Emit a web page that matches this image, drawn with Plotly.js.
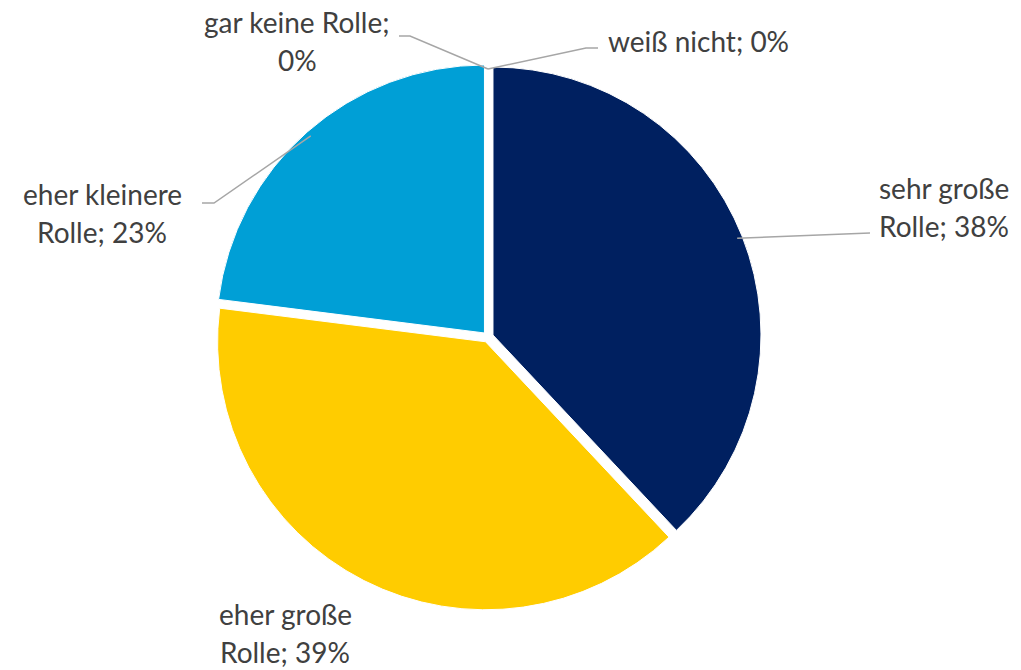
<!DOCTYPE html>
<html>
<head>
<meta charset="utf-8">
<script src="https://cdn.plot.ly/plotly-3.0.1.min.js"></script>
<style>
  html, body { margin: 0; padding: 0; background: #fff; }
  #chart { width: 1021px; height: 670px; }
</style>
</head>
<body>
<div id="chart"></div>
<script>
// ── Daten ─────────────────────────────────────────────────────────────
const labels = ['sehr große Rolle', 'eher große Rolle', 'eher kleinere Rolle', 'gar keine Rolle', 'weiß nicht'];
const values = [38, 39, 23, 0, 0];
const colors = ['#002060', '#FFCC00', '#009FD6', '#7F7F7F', '#BFBFBF'];

// ── Layout der Beschriftungen (Pixel) ─────────────────────────────────
const W = 1021, H = 670;
const CX = 488, CY = 337, R = 268;
// Textmitte, Zeilenumbruch nach n Wörtern, Knick der Führungslinie
const labelPos = [
    { x: 944, y: 188, split: 2, line: [[870, 233]] },
    { x: 285, y: 614, split: 2, line: null },
    { x: 102, y: 194, split: 2, line: [[214, 203], [202, 203]] },
    { x: 297, y: 22,  split: 3, line: [[410, 36], [399, 36]] },
    { x: 698, y: 41,  split: 9, line: [[586, 48], [598, 48]] },
];
const LINE_H = 38;

const px = x => x / W;
const py = y => 1 - y / H;

const total = values.reduce((a, b) => a + b, 0);
const annotations = [];
const shapes = [];
let cum = 0;
labels.forEach((lab, i) => {
    const mid = (cum + values[i] / 2) / total * 2 * Math.PI;
    cum += values[i];
    const ex = CX + R * Math.sin(mid);
    const ey = CY - R * Math.cos(mid);

    const words = `${lab}; ${values[i]}%`.split(' ');
    const rows = [words.slice(0, labelPos[i].split).join(' '), words.slice(labelPos[i].split).join(' ')].filter(s => s);
    rows.forEach((t, k) => annotations.push({
        xref: 'paper', yref: 'paper',
        x: px(labelPos[i].x), y: py(labelPos[i].y + k * LINE_H),
        xanchor: 'center', yanchor: 'middle',
        text: t, showarrow: false,
        font: { family: 'Lato, "Open Sans", sans-serif', size: 28, color: '#404040' },
    }));

    if (labelPos[i].line) {
        const pts = [[ex, ey], ...labelPos[i].line];
        shapes.push({
            type: 'path', xref: 'paper', yref: 'paper',
            path: pts.map((p, k) => `${k ? 'L' : 'M'}${px(p[0])},${py(p[1])}`).join(' '),
            line: { color: '#A6A6A6', width: 1.5 },
        });
    }
});

const pull = 0.02;
const half = R * (1 + pull);

Plotly.newPlot('chart', [{
    type: 'pie',
    labels: labels,
    values: values,
    sort: false,
    direction: 'clockwise',
    rotation: 0,
    pull: values.map(() => pull),
    textinfo: 'none',
    hoverinfo: 'label+percent',
    marker: { colors: colors, line: { color: '#ffffff', width: 1 } },
    domain: { x: [px(CX - half), px(CX + half)], y: [py(CY + half), py(CY - half)] },
}], {
    width: W, height: H,
    margin: { l: 0, r: 0, t: 0, b: 0 },
    paper_bgcolor: '#ffffff',
    showlegend: false,
    annotations: annotations,
    shapes: shapes,
}, { staticPlot: true });
</script>
</body>
</html>
